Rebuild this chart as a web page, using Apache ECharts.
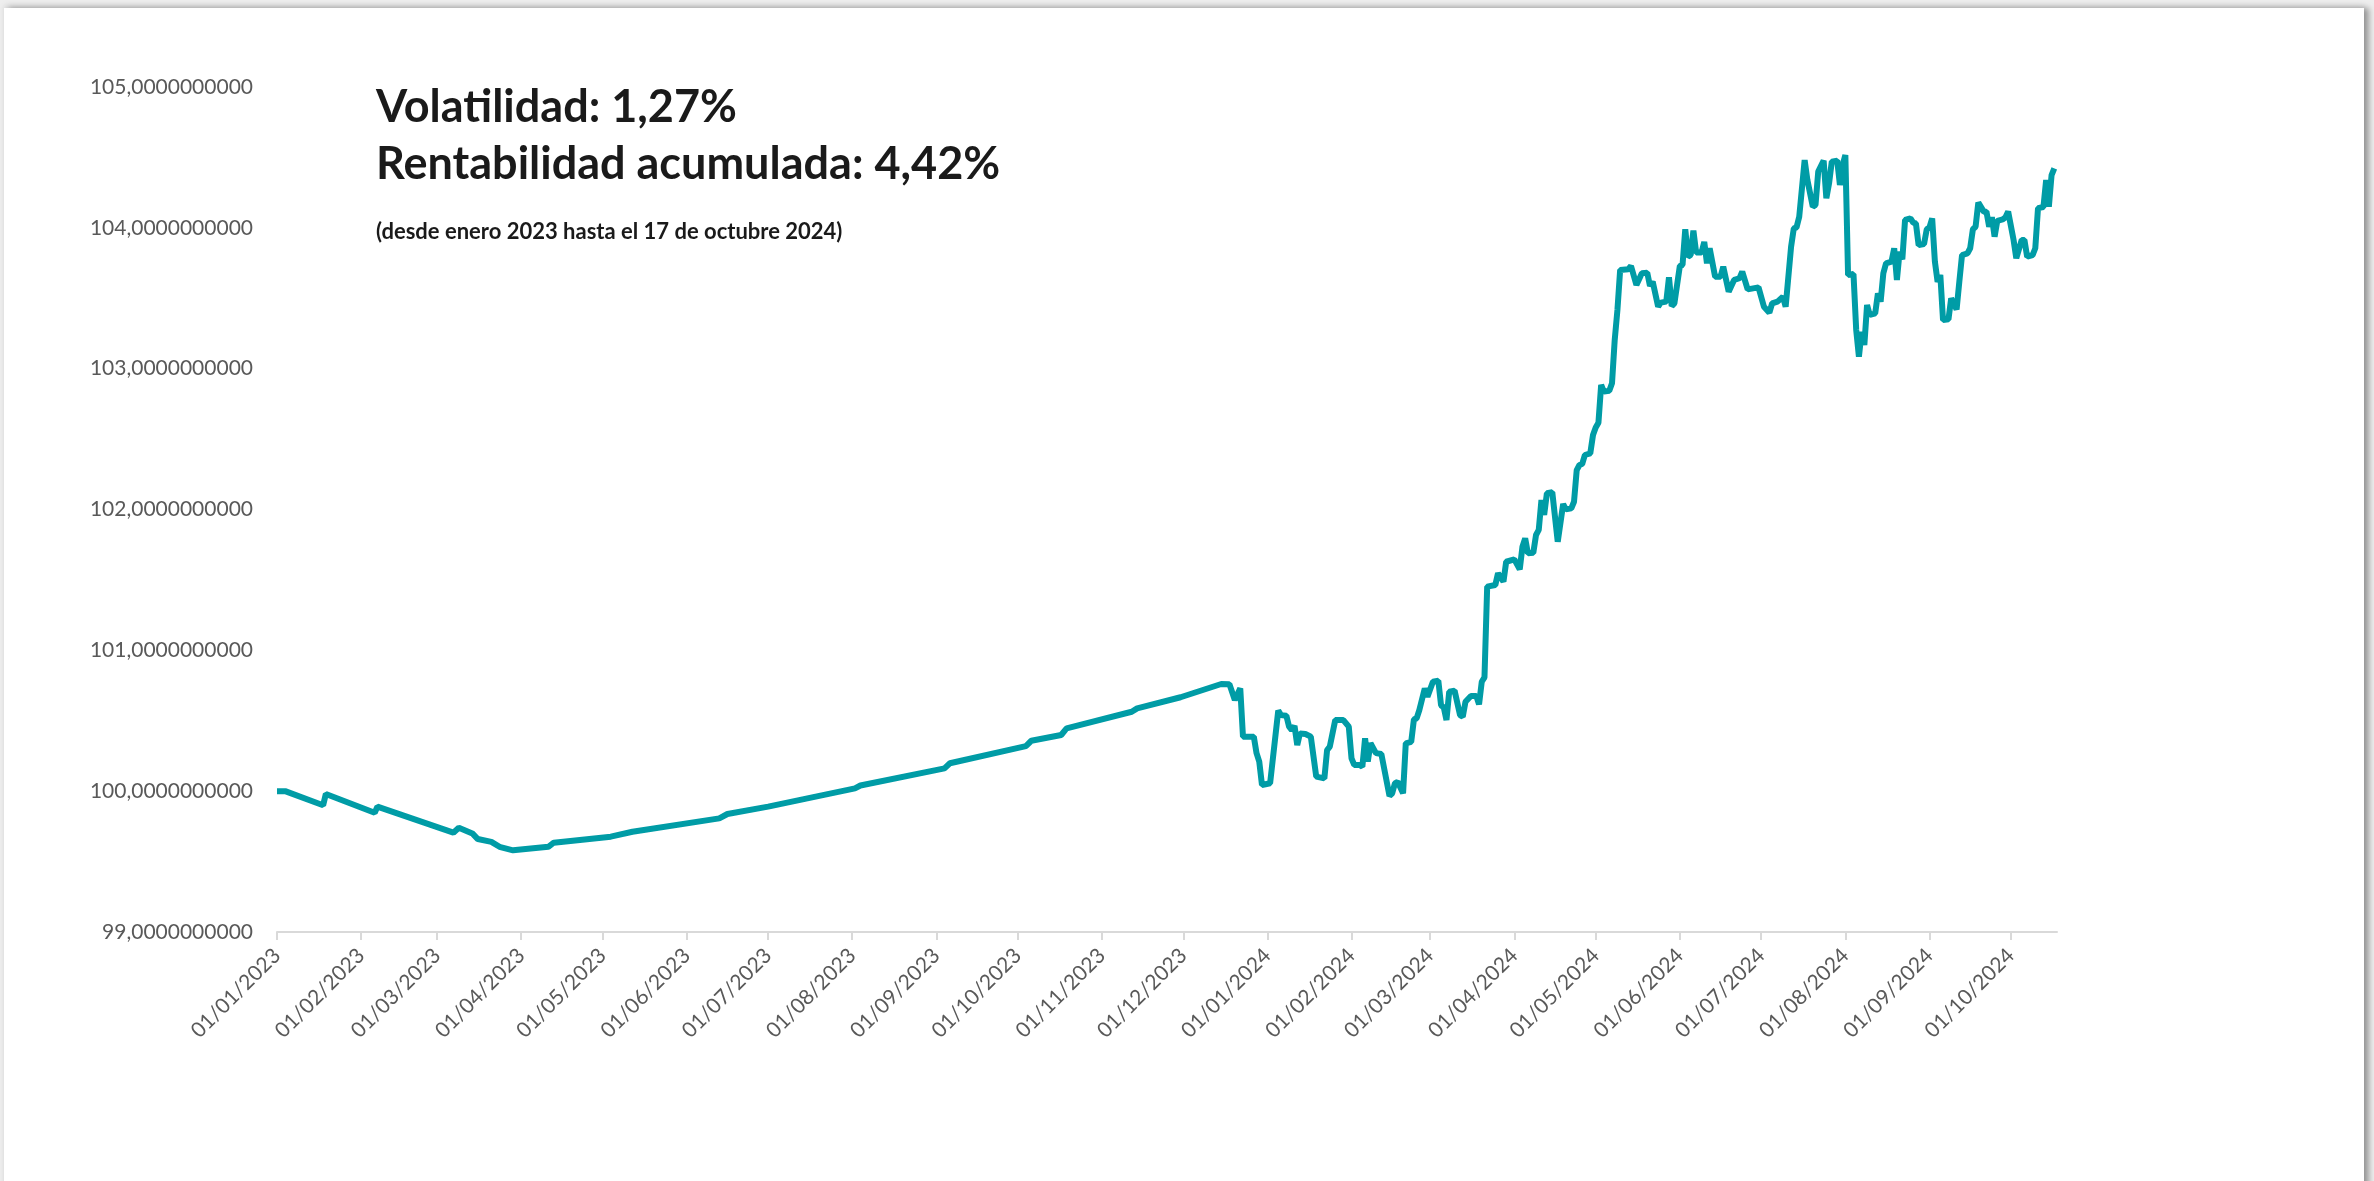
<!DOCTYPE html>
<html>
<head>
<meta charset="utf-8">
<title>Evolución valor liquidativo</title>
<script src="https://cdn.jsdelivr.net/npm/echarts@6/dist/echarts.min.js"></script>
<style>
    html, body { margin: 0; padding: 0; width: 2374px; height: 1181px; overflow: hidden; background: #eeeeee; }
    #card { position: absolute; left: 4px; top: 8px; width: 2360px; height: 1200px; background: #fff;
            box-shadow: 5px 0 6px rgba(0,0,0,0.35), 0 -3px 6px rgba(0,0,0,0.08); }
    #chart { position: absolute; left: 0; top: 0; width: 2374px; height: 1181px; }
</style>
</head>
<body>
<div id="card"></div>
<div id="chart"></div>
<script>
// fechas y valores
const dates = [
    '2023-01-01', '2023-01-04', '2023-01-18', '2023-01-19', '2023-02-06', '2023-02-07',
    '2023-03-07', '2023-03-09', '2023-03-14', '2023-03-16', '2023-03-21', '2023-03-24',
    '2023-03-29', '2023-04-11', '2023-04-13', '2023-05-04', '2023-05-12', '2023-06-13',
    '2023-06-16', '2023-07-01', '2023-08-02', '2023-08-04', '2023-09-04', '2023-09-06',
    '2023-10-04', '2023-10-06', '2023-10-17', '2023-10-19', '2023-11-12', '2023-11-14',
    '2023-11-30', '2023-12-15', '2023-12-18', '2023-12-20', '2023-12-22', '2023-12-23',
    '2023-12-27', '2023-12-28', '2023-12-29', '2023-12-30',
    '2024-01-02', '2024-01-05', '2024-01-06', '2024-01-08', '2024-01-09', '2024-01-10',
    '2024-01-11', '2024-01-12', '2024-01-13', '2024-01-15', '2024-01-17', '2024-01-19',
    '2024-01-22', '2024-01-23', '2024-01-24', '2024-01-26', '2024-01-29', '2024-01-31',
    '2024-02-01', '2024-02-02', '2024-02-04', '2024-02-05', '2024-02-06', '2024-02-07',
    '2024-02-08', '2024-02-10', '2024-02-12', '2024-02-15', '2024-02-16', '2024-02-17',
    '2024-02-18', '2024-02-20', '2024-02-21', '2024-02-23', '2024-02-24', '2024-02-25',
    '2024-02-26', '2024-02-28', '2024-02-29',
    '2024-03-02', '2024-03-04', '2024-03-05', '2024-03-06', '2024-03-07', '2024-03-08',
    '2024-03-10', '2024-03-12', '2024-03-13', '2024-03-14', '2024-03-16', '2024-03-18',
    '2024-03-19', '2024-03-20', '2024-03-21', '2024-03-22', '2024-03-25', '2024-03-26',
    '2024-03-28', '2024-03-29',
    '2024-04-01', '2024-04-03', '2024-04-04', '2024-04-05', '2024-04-06', '2024-04-08',
    '2024-04-09', '2024-04-10', '2024-04-11', '2024-04-12', '2024-04-13', '2024-04-15',
    '2024-04-17', '2024-04-19', '2024-04-20', '2024-04-22', '2024-04-23', '2024-04-24',
    '2024-04-25', '2024-04-26', '2024-04-27', '2024-04-29', '2024-04-30',
    '2024-05-01', '2024-05-02', '2024-05-03', '2024-05-04', '2024-05-06', '2024-05-07',
    '2024-05-08', '2024-05-09', '2024-05-10', '2024-05-13', '2024-05-14', '2024-05-16',
    '2024-05-18', '2024-05-20', '2024-05-21', '2024-05-22', '2024-05-24', '2024-05-25',
    '2024-05-27', '2024-05-28', '2024-05-29', '2024-05-30',
    '2024-06-01', '2024-06-02', '2024-06-03', '2024-06-04', '2024-06-05', '2024-06-06',
    '2024-06-07', '2024-06-09', '2024-06-10', '2024-06-11', '2024-06-12', '2024-06-14',
    '2024-06-16', '2024-06-17', '2024-06-19', '2024-06-21', '2024-06-23', '2024-06-24',
    '2024-06-26', '2024-06-30',
    '2024-07-02', '2024-07-04', '2024-07-05', '2024-07-07', '2024-07-09', '2024-07-10',
    '2024-07-12', '2024-07-13', '2024-07-14', '2024-07-15', '2024-07-17', '2024-07-18',
    '2024-07-20', '2024-07-21', '2024-07-22', '2024-07-24', '2024-07-25', '2024-07-26',
    '2024-07-27', '2024-07-29', '2024-07-30', '2024-07-31',
    '2024-08-01', '2024-08-02', '2024-08-04', '2024-08-05', '2024-08-06', '2024-08-07',
    '2024-08-08', '2024-08-09', '2024-08-10', '2024-08-12', '2024-08-13', '2024-08-14',
    '2024-08-15', '2024-08-16', '2024-08-18', '2024-08-19', '2024-08-20', '2024-08-21',
    '2024-08-22', '2024-08-23', '2024-08-25', '2024-08-26', '2024-08-27', '2024-08-28',
    '2024-08-30', '2024-08-31',
    '2024-09-01', '2024-09-02', '2024-09-03', '2024-09-04', '2024-09-05', '2024-09-06',
    '2024-09-08', '2024-09-09', '2024-09-11', '2024-09-12', '2024-09-13', '2024-09-15',
    '2024-09-16', '2024-09-17', '2024-09-18', '2024-09-19', '2024-09-21', '2024-09-22',
    '2024-09-23', '2024-09-24', '2024-09-25', '2024-09-26', '2024-09-28', '2024-09-29',
    '2024-09-30',
    '2024-10-02', '2024-10-03', '2024-10-05', '2024-10-06', '2024-10-07', '2024-10-09',
    '2024-10-10', '2024-10-11', '2024-10-13', '2024-10-14', '2024-10-15', '2024-10-16',
    '2024-10-17'
];

const values = [
    100.000, 100.000, 99.900, 99.980, 99.847, 99.890,
    99.705, 99.740, 99.700, 99.660, 99.640, 99.605,
    99.580, 99.605, 99.634, 99.677, 99.712, 99.807,
    99.838, 99.890, 100.020, 100.040, 100.162, 100.198,
    100.320, 100.358, 100.399, 100.446, 100.564, 100.588,
    100.667, 100.761, 100.760, 100.647, 100.730, 100.387,
    100.387, 100.270, 100.210, 100.044,
    100.056, 100.572, 100.540, 100.536, 100.458, 100.434,
    100.463, 100.328, 100.410, 100.406, 100.387, 100.103,
    100.091, 100.292, 100.316, 100.505, 100.505, 100.458,
    100.233, 100.186, 100.186, 100.174, 100.375, 100.210,
    100.340, 100.270, 100.264, 99.966, 99.985, 100.056,
    100.067, 99.985, 100.340, 100.350, 100.510, 100.517,
    100.576, 100.730, 100.670,
    100.777, 100.784, 100.610, 100.595, 100.505, 100.706,
    100.713, 100.540, 100.529, 100.635, 100.676, 100.676,
    100.617, 100.777, 100.808, 101.452, 101.464, 101.547,
    101.488, 101.629,
    101.646, 101.575, 101.736, 101.795, 101.689, 101.693,
    101.819, 101.855, 102.068, 101.961, 102.115, 102.122,
    101.771, 102.039, 102.001, 102.008, 102.055, 102.280,
    102.316, 102.323, 102.387, 102.399, 102.529,
    102.583, 102.616, 102.884, 102.837, 102.843, 102.896,
    103.204, 103.417, 103.701, 103.706, 103.729, 103.594,
    103.677, 103.681, 103.587, 103.618, 103.440, 103.469,
    103.476, 103.649, 103.445, 103.464,
    103.729, 103.737, 103.990, 103.795, 103.807, 103.980,
    103.825, 103.825, 103.900, 103.748, 103.855, 103.653,
    103.653, 103.724, 103.547, 103.630, 103.642, 103.689,
    103.563, 103.577,
    103.440, 103.397, 103.464, 103.476, 103.511, 103.440,
    103.866, 103.996, 104.003, 104.079, 104.481, 104.340,
    104.150, 104.162, 104.399, 104.477, 104.210, 104.316,
    104.470, 104.477, 104.304, 104.446,
    104.517, 103.665, 103.672, 103.275, 103.085, 103.262,
    103.168, 103.452, 103.381, 103.393, 103.535, 103.476,
    103.677, 103.748, 103.760, 103.855, 103.630, 103.830,
    103.776, 104.056, 104.067, 104.037, 104.032, 103.878,
    103.885, 103.990,
    104.003, 104.067, 103.760, 103.617, 103.665, 103.345,
    103.350, 103.499, 103.420, 103.617, 103.807, 103.818,
    103.855, 103.990, 104.008, 104.180, 104.115, 104.115,
    104.008, 104.075, 103.937, 104.050, 104.060, 104.075,
    104.115,
    103.914, 103.784, 103.914, 103.914, 103.795, 103.807,
    103.855, 104.140, 104.148, 104.340, 104.150, 104.375,
    104.422
];

const titleLines = ['Volatilidad: 1,27%', 'Rentabilidad acumulada: 4,42%'];
const subtitle = '(desde enero 2023 hasta el 17 de octubre 2024)';
const lineColor = '#009ca6';
const labelColor = '#595959';

const chart = echarts.init(document.getElementById('chart'));

chart.setOption({
    animation: false,
    title: {
        text: titleLines.join('\n'),
        subtext: subtitle,
        left: 371,
        top: 74,
        itemGap: 26,
        textStyle: {
            fontFamily: 'Lato',
            fontWeight: 'bold',
            fontSize: 45,
            lineHeight: 57,
            color: '#1a1a1a'
        },
        subtextStyle: {
            fontFamily: 'Lato',
            fontWeight: 'bold',
            fontSize: 22,
            lineHeight: 26,
            color: '#1a1a1a'
        }
    },
    grid: {
        left: 277,
        right: 317,
        top: 87,
        bottom: 249,
        containLabel: false
    },
    xAxis: {
        type: 'time',
        min: '2023-01-01',
        max: '2024-10-18',
        splitNumber: 21,
        minInterval: 28 * 86400000,
        maxInterval: 31 * 86400000,
        axisLine: { lineStyle: { color: '#d9d9d9', width: 2 } },
        axisTick: { show: true, length: 8, lineStyle: { color: '#d9d9d9', width: 2 } },
        splitLine: { show: false },
        axisLabel: {
            rotate: 45,
            margin: 20,
            formatter: '{dd}/{MM}/{yyyy}',
            color: labelColor,
            fontFamily: 'Lato',
            fontSize: 21,
            showMinLabel: true,
            showMaxLabel: false,
            hideOverlap: false
        }
    },
    yAxis: {
        type: 'value',
        min: 99,
        max: 105,
        interval: 1,
        axisLine: { show: false },
        axisTick: { show: false },
        splitLine: { show: false },
        axisLabel: {
            margin: 24,
            color: labelColor,
            fontFamily: 'Lato',
            fontSize: 21,
            formatter: v => v.toFixed(10).replace('.', ',')
        }
    },
    series: [
        {
            type: 'line',
            data: dates.map((d, i) => [d, values[i]]),
            showSymbol: false,
            lineStyle: { color: lineColor, width: 6 },
            itemStyle: { color: lineColor }
        }
    ]
});
</script>
</body>
</html>
